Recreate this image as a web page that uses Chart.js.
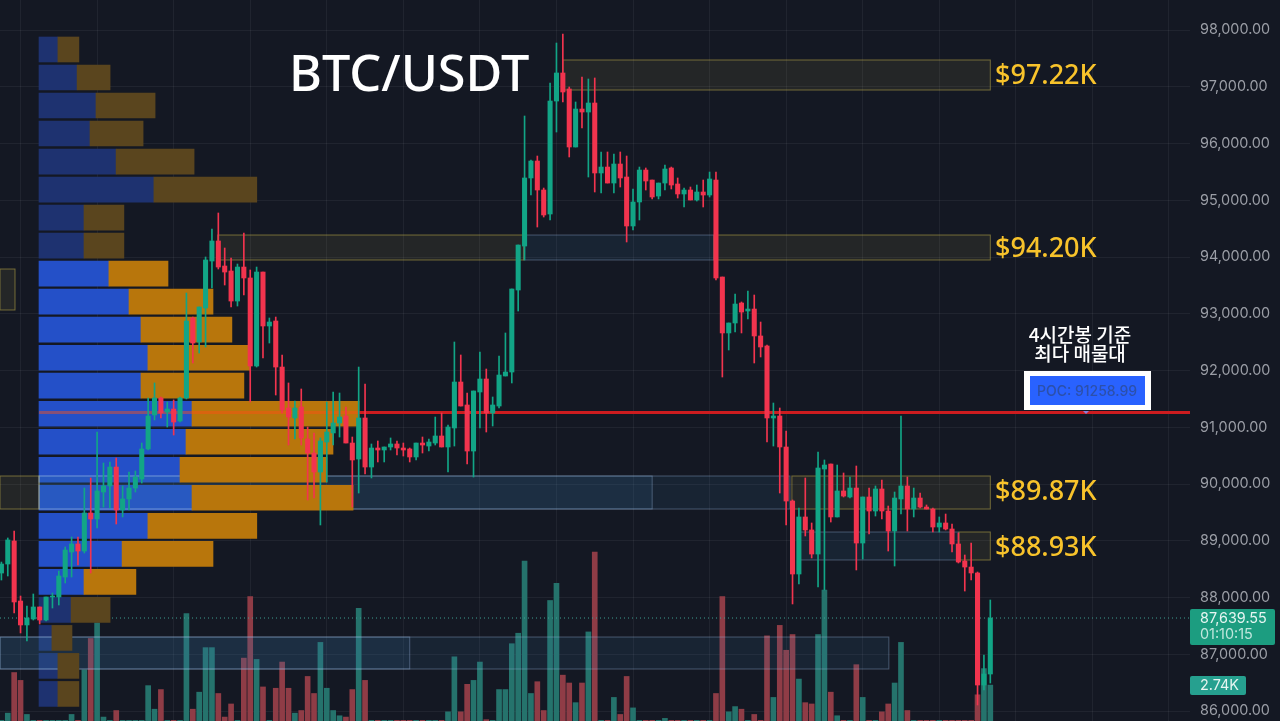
<!DOCTYPE html>
<html lang="ko">
<head>
<meta charset="UTF-8">
<title>BTC/USDT</title>
<style>
    html, body { margin: 0; padding: 0; background: #141823; overflow: hidden; }
    canvas { display: block; }
</style>
</head>
<body>
<canvas id="chart" width="1280" height="721"></canvas>
<script src="https://cdn.jsdelivr.net/npm/chart.js"></script>
<script>
const opens = [
    88432,88591,88997,87939,87517,87622,87834,87604,88010,88010,
    88362,88803,88944,88820,89490,89384,89860,89966,90300,89543,
    89737,89930,90089,90618,91217,91516,91270,91322,91111,91516,
    92926,92503,93102,93930,94283,93842,93754,93225,93824,93631,
    92080,93736,92785,92873,92062,91340,91164,91358,90794,90547,
    90212,90741,90900,91076,91199,90723,90441,91164,90300,90635,
    90600,90653,90706,90635,90618,90477,90723,90670,90723,90847,
    90653,90988,91798,91393,90582,91622,91851,91252,91375,91904,
    91974,93419,94194,95393,95692,95181,94758,96749,97243,96961,
    95939,96608,96555,96714,95481,95586,95304,95639,95410,94547,
    94970,95533,95357,95075,95304,95569,95287,95111,95181,95005,
    95146,95093,95357,93648,92662,92838,93190,93049,93084,92609,
    92433,91164,91199,90653,89701,88415,89420,89191,88767,90265,
    90353,89420,89878,89772,89930,88961,89772,89525,89913,89525,
    89173,89737,89966,89560,89754,89595,89560,89243,89314,89208,
    88944,88644,88538,88433,86459,86653
];
const closes = [
    88591,89015,87922,87517,87640,87834,87604,88010,88027,88380,
    88838,88944,88820,89490,89384,89878,89966,90300,89543,89737,
    89930,90124,90618,91199,91516,91252,91322,91093,91516,92873,
    92485,93120,93948,94283,93824,93736,93225,93824,93631,92080,
    93736,92785,92855,92062,91305,91181,91340,90812,90547,90212,
    90759,90917,91076,91181,90723,90424,91164,90300,90635,90600,
    90653,90706,90635,90600,90477,90723,90688,90741,90847,90653,
    91005,91798,91375,90582,91640,91851,91252,91393,91921,91974,
    93437,94212,95393,95692,95181,94741,96749,97243,96908,95939,
    96608,96555,96714,95481,95586,95304,95639,95393,94547,94970,
    95533,95340,95058,95304,95551,95269,95111,95181,95005,95146,
    95093,95375,93631,92662,92838,93172,93031,93084,92609,92415,
    91164,91199,90653,89701,88415,89420,89191,88767,90283,90335,
    89420,89878,89789,89930,88961,89772,89525,89913,89525,89173,
    89754,89966,89560,89754,89595,89560,89243,89314,89208,88944,
    88626,88538,88433,86459,86653,87640
];
const highs = [
    88626,89050,89173,88027,87851,88063,87834,88010,88080,88468,
    88891,89067,89067,89930,90107,90917,90371,90389,90459,89966,
    90212,90230,90723,91516,91781,91534,91446,91481,91534,93366,
    92943,93120,94001,94494,94776,94159,93983,93877,94424,93772,
    93824,93736,92926,92943,92274,91781,91463,91675,91005,90900,
    90812,91446,91622,91604,91358,90829,92062,91763,90706,90759,
    90653,90812,90759,90723,90635,90723,90829,90794,91181,91252,
    91041,92503,92274,91604,91640,92327,92027,91534,92256,92662,
    93437,94212,96485,95710,95780,95216,97066,97771,97930,96996,
    96732,97172,97137,97155,95851,95851,95816,95851,95780,95199,
    95586,95569,95357,95304,95622,95586,95393,95216,95234,95269,
    95357,95498,95498,93648,92838,93349,93208,93402,93331,92855,
    92450,91428,91340,90935,89719,89578,90107,89314,90565,90424,
    90353,90335,90195,90124,90318,89772,89930,89966,90071,89613,
    89860,91199,90124,89930,89842,89631,89578,89420,89472,89296,
    89138,88750,88961,88450,86988,87957
];
const lows = [
    88309,88380,87728,87376,87235,87604,87534,87587,87816,87869,
    88257,88362,88574,88785,88433,89226,89595,89578,89296,89420,
    89543,89860,90018,90600,91129,91164,91005,90864,91093,91499,
    92133,92309,92415,93454,93789,93507,93120,93137,93331,91446,
    92062,92221,92485,91569,91252,90688,90794,90688,89719,89754,
    89279,90036,90688,90829,90723,89595,89842,90177,90107,90389,
    90389,90600,90512,90494,90389,90424,90547,90582,90688,90653,
    90212,90670,91375,90353,90124,90988,90917,91023,91340,91904,
    91781,93049,93948,95093,94529,94705,94653,96203,96732,95763,
    95939,96274,95410,95146,95128,95304,95128,95234,94265,94476,
    94653,95181,95023,95023,95181,95199,95040,94882,95005,94987,
    94882,95058,93596,91886,92362,92679,92662,92908,92133,92239,
    90741,90670,89842,89279,87887,88239,89085,88697,88186,88133,
    89331,89420,89772,89754,88486,88679,89120,89437,89384,88820,
    88556,89472,89173,89420,89578,89560,89155,89155,89191,88803,
    88609,88115,88309,86107,86371,86494
];
// volume in K
const volumes = [
    .05,.6,3.7,3.1,.5,.05,.05,.05,.05,.05,
    .05,.5,.05,3.9,6.3,7.5,.3,.05,.8,.05,
    .05,.05,.05,2.7,.9,2.4,.05,.05,.05,8.2,
    .9,2.2,5.6,5.6,2.1,.3,1.3,.05,4.8,9.5,
    4.7,2.6,.05,2.5,4.5,2.5,.6,.8,3.4,2.1,
    6,2.5,.8,.4,.3,2.4,8.6,3.1,.05,.05,
    .05,.05,.05,.05,.05,.05,.05,.05,.05,.05,
    .7,4.9,.7,2.8,3.1,4.5,.1,.05,2.4,2.4,
    5.9,6.7,12.2,2.1,3,.8,9.2,10.5,3.5,2.9,
    1.4,2.9,6.8,12.9,.05,.05,1.8,.5,3.4,1,
    .05,.05,.05,.05,.2,.05,.05,.05,.05,.05,
    .05,.05,2.1,9.5,.7,1.1,.9,.05,.5,.05,
    6.5,1.8,7.3,5.4,6.6,3.2,1.4,1.3,6.6,10,
    2.2,.4,.05,.05,4.3,1.8,.05,.05,.7,1.3,
    2.9,6,.8,.05,.05,.05,.05,.05,.05,.05,
    .05,.05,.05,2,4,2.74
];

// volume profile rows, top to bottom
const profilePrices = [97657,97163,96670,96176,95682,95189,94695,94201,93708,93214,92720,92226,
    91733,91239,90745,90252,89758,89264,88771,88277,87783,87289,86796,86302];
const profileBuy = [6.3,12.7,19,17,25.7,38.3,15,15,23.3,30,34,36.3,34,51,49,47,51,36.3,27.7,15,10.7,4.3,6.3,6.3];
const profileSell = [7,11,19.7,17.7,26,34.3,13.3,13.3,19.7,28,30.3,34,34.3,55.7,49,49,53.7,36.3,30.3,17.3,13,6.7,7,7];
const profileBright = [0,0,0,0,0,0,0,0,1,1,1,1,1,1,1,1,1,1,1,1,0,0,0,0];

const priceTicks = [98000,97000,96000,95000,94000,93000,92000,91000,90000,89000,88000,87000,86000];
const gridCandles = [3,15,27,39,51,63,75,87,99,111,123,135,147,159,171,183];

const pocPrice = 91258.99;
const lastPrice = 87639.55;
const countdown = '01:10:15';
const lastVolume = '2.74K';

// zones: candle index range and price range
const yellowStart = [88,33.9,111.7,123.9,-0.22,150.1,-0.22];
const yellowEnd = [155,81.9,155,155,5.9,155,2.13];
const yellowTop = [97472,94388,94388,90142,90142,89155,93789];
const yellowBottom = [96943,93948,93948,89560,89560,88662,93067];
const blueStart = [81.9,5.9,5.9,125.2,-0.22,-0.22];
const blueEnd = [111.7,123.6,102,150,139.1,64];
const blueTop = [94388,90142,90142,89155,87305,87305];
const blueBottom = [93948,89560,89560,88662,86741,86741];

const levelLabels = ['$97.22K','$94.20K','$89.87K','$88.93K'];
const levelPrices = [97225,94177,89895,88905];

const UP = '#12a586';
const DOWN = '#f2344e';
const isUp = i => closes[i] >= opens[i];
const candleColors = opens.map((o, i) => isUp(i) ? UP : DOWN);
const volumeColors = opens.map((o, i) => isUp(i) ? '#25736c' : '#8f3c46');
const index = opens.map((o, i) => i);
const SELL_DATASET = 4; // zones go under the sell rows, over the buy rows

function drawZone(ctx, x, y, x1, x2, top, bottom, stroke, fill) {
    const left = x.getPixelForValue(x1), right = x.getPixelForValue(x2);
    const t = y.getPixelForValue(top), b = y.getPixelForValue(bottom);
    ctx.fillStyle = fill;
    ctx.fillRect(left, t, right - left, b - t);
    ctx.strokeStyle = stroke;
    ctx.lineWidth = 1;
    ctx.strokeRect(left, t, right - left, b - t);
}

function tag(ctx, x, y, w, h, color) {
    ctx.fillStyle = color;
    ctx.beginPath();
    ctx.roundRect(x, y, w, h, 2);
    ctx.fill();
}

const overlay = {
    id: 'overlay',
    beforeDatasetDraw(chart, args) {
        if (args.index !== SELL_DATASET) return;
        const { ctx, scales } = chart;
        ctx.save();
        blueStart.forEach((s, i) => drawZone(ctx, scales.x, scales.y, s, blueEnd[i], blueTop[i], blueBottom[i],
            'rgba(160,190,230,0.36)', 'rgba(60,120,170,0.12)'));
        yellowStart.forEach((s, i) => drawZone(ctx, scales.x, scales.y, s, yellowEnd[i], yellowTop[i], yellowBottom[i],
            'rgba(205,185,75,0.5)', 'rgba(200,185,90,0.09)'));
        ctx.restore();
    },
    afterDraw(chart) {
        const { ctx, scales } = chart;
        const y = scales.y;
        ctx.save();
        ctx.textBaseline = 'middle';

        ctx.fillStyle = '#ffffff';
        ctx.font = '500 50.4px "Noto Sans"';
        ctx.fillText('BTC/USDT', 289, 77);

        ctx.fillStyle = '#f8c32b';
        ctx.font = '500 27px "Noto Sans"';
        levelLabels.forEach((t, i) => ctx.fillText(t, 995, y.getPixelForValue(levelPrices[i]) + 2));

        ctx.textAlign = 'center';
        ctx.fillStyle = '#ffffff';
        ctx.font = '500 19px "Noto Sans CJK KR"';
        ctx.fillText('4시간봉 기준', 1080, 335);
        ctx.fillText('최다 매물대', 1080, 354);

        ctx.fillRect(1024, 371, 127, 39);
        ctx.fillStyle = '#2962ff';
        ctx.fillRect(1030, 376, 115, 29);
        ctx.fillStyle = '#2c50aa';
        ctx.font = '500 14px Inter';
        ctx.fillText('POC: ' + pocPrice, 1087, 392);

        // small marker under the POC box
        ctx.fillStyle = '#8d7fd8';
        ctx.beginPath();
        ctx.moveTo(1083, 411);
        ctx.lineTo(1089, 411);
        ctx.lineTo(1086, 414);
        ctx.fill();

        ctx.textAlign = 'left';
        tag(ctx, 1190, 609, 85, 36, '#1c9d80');
        tag(ctx, 1190, 676, 56, 19, '#26a08f');
        ctx.fillStyle = '#e6f5f1';
        ctx.font = '14.4px Inter';
        ctx.fillText(lastPrice.toLocaleString('en-US'), 1200, 619);
        ctx.fillStyle = '#bfe6dc';
        ctx.fillText(countdown, 1200, 635);
        ctx.fillStyle = '#e6f5f1';
        ctx.fillText(lastVolume, 1200, 686);
        ctx.restore();
    }
};

new Chart(document.getElementById('chart'), {
    type: 'bar',
    data: {
        datasets: [
            {
                label: 'body', order: 0, grouped: false, barThickness: 4.4,
                data: index.map(i => ({ x: i, y: [opens[i], closes[i]] })),
                backgroundColor: candleColors
            },
            {
                label: 'wick', order: 1, grouped: false, barThickness: 1,
                data: index.map(i => ({ x: i, y: [lows[i], highs[i]] })),
                backgroundColor: candleColors
            },
            {
                label: 'POC', type: 'line', order: 2, borderColor: '#cc1c1f', borderWidth: 3, pointRadius: 0,
                data: [{ x: 55.9, y: pocPrice }, { x: 186.3, y: pocPrice }]
            },
            {
                label: 'POC inner', type: 'line', order: 3, borderColor: 'rgba(255,80,20,0.45)', borderWidth: 3, pointRadius: 0,
                data: [{ x: 5.9, y: pocPrice }, { x: 55.9, y: pocPrice }]
            },
            {
                label: 'sell', indexAxis: 'y', order: 4, grouped: false, barThickness: 25,
                xAxisID: 'xProfile', yAxisID: 'y',
                data: profilePrices.map((p, i) => ({ y: p, x: [profileBuy[i], profileBuy[i] + profileSell[i]] })),
                backgroundColor: profileBright.map(b => b ? '#b8760c' : '#5a451e')
            },
            {
                label: 'buy', indexAxis: 'y', order: 5, grouped: false, barThickness: 25,
                xAxisID: 'xProfile', yAxisID: 'y',
                data: profilePrices.map((p, i) => ({ y: p, x: [0, profileBuy[i]] })),
                backgroundColor: profileBright.map(b => b ? '#2450c8' : '#1e3270')
            },
            {
                label: 'last', type: 'line', order: 6, borderColor: '#3f9f92', borderWidth: 1, borderDash: [1, 3], pointRadius: 0,
                data: [{ x: -0.22, y: lastPrice }, { x: 186.3, y: lastPrice }]
            },
            {
                label: 'volume', order: 7, grouped: false, barThickness: 5, yAxisID: 'yVol',
                data: index.map(i => ({ x: i, y: volumes[i] })),
                backgroundColor: volumeColors
            }
        ]
    },
    options: {
        responsive: false,
        animation: false,
        layout: { padding: 0 },
        plugins: { legend: { display: false }, tooltip: { enabled: false }, title: { display: false } },
        scales: {
            x: {
                type: 'linear', min: -0.22, max: 186.3, offset: false,
                grid: { color: 'rgba(255,255,255,0.055)', offset: false, drawTicks: false },
                border: { display: false },
                ticks: { display: false },
                afterBuildTicks: s => { s.ticks = gridCandles.map(v => ({ value: v })); },
                afterFit: s => { s.height = 0; }
            },
            xProfile: { type: 'linear', display: false, min: -13, max: 383.67, offset: false },
            y: {
                type: 'linear', position: 'right', min: 85825, max: 98529, offset: false,
                grid: { color: 'rgba(255,255,255,0.055)', offset: false, drawTicks: false },
                border: { display: false },
                ticks: {
                    color: '#9b9ea6', padding: 10,
                    font: { family: 'Inter', size: 14.4 },
                    callback: v => v.toLocaleString('en-US', { minimumFractionDigits: 2, maximumFractionDigits: 2 })
                },
                afterBuildTicks: s => { s.ticks = priceTicks.map(v => ({ value: v })); },
                // keep the plot area full height, tick padding would otherwise inset it
                afterFit: s => { s.width = 90; s.paddingTop = 0; s.paddingBottom = 0; }
            },
            yVol: { type: 'linear', display: false, min: 0, max: 55.04, offset: false }
        }
    },
    plugins: [overlay]
});
</script>
</body>
</html>
